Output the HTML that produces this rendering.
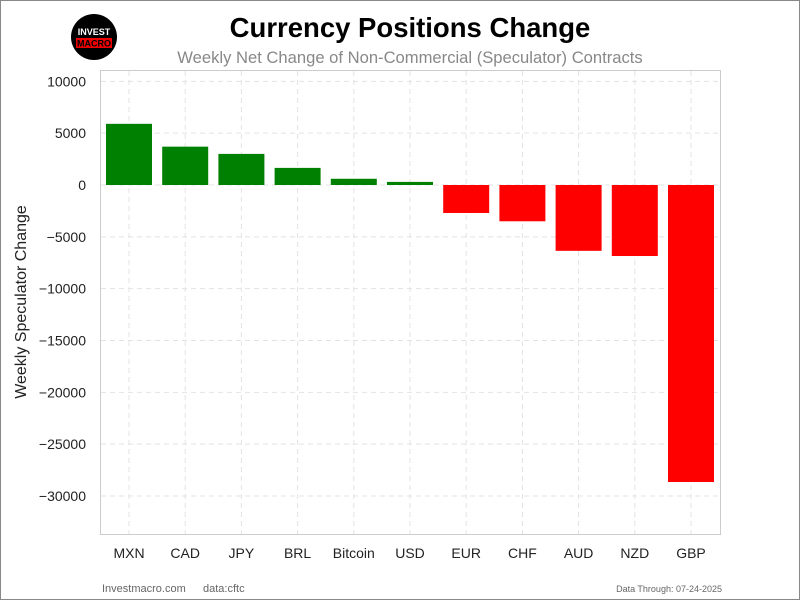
<!DOCTYPE html>
<html><head><meta charset="utf-8"><style>
body{margin:0;background:#fff;font-family:"Liberation Sans",sans-serif}
svg{display:block}
</style></head><body>
<svg id="c" width="800" height="600" xmlns="http://www.w3.org/2000/svg">
<rect x="0.5" y="0.5" width="799" height="599" fill="#fff" stroke="#888"/>
<g>
<circle cx="94" cy="37" r="23" fill="#000"/>
<text x="94" y="35" font-size="9" font-weight="bold" fill="#fff" text-anchor="middle">INVEST</text>
<rect x="76" y="38" width="36" height="10" fill="#e00"/>
<text x="94" y="46.5" font-size="9" font-weight="bold" fill="#000" text-anchor="middle">MACRO</text>
</g>
<text x="410" y="37" font-size="27.5" font-weight="bold" text-anchor="middle" fill="#000">Currency Positions Change</text>
<text x="410" y="63" font-size="16.6" text-anchor="middle" fill="#888">Weekly Net Change of Non-Commercial (Speculator) Contracts</text>
<text transform="translate(26,302) rotate(-90)" font-size="16" text-anchor="middle" fill="#222">Weekly Speculator Change</text>
<g id="grid"></g><g id="bars"></g><g id="labels"></g>
<rect x="100.5" y="70.5" width="620" height="464" fill="none" stroke="#ccc"/>
<text x="102" y="592" font-size="11" fill="#666">Investmacro.com</text>
<text x="203" y="592" font-size="11" fill="#666">data:cftc</text>
<text x="722" y="592" font-size="9" fill="#666" text-anchor="end">Data Through: 07-24-2025</text>
</svg>
<script>
const categories=["MXN","CAD","JPY","BRL","Bitcoin","USD","EUR","CHF","AUD","NZD","GBP"];
const values=[5900,3700,3000,1650,600,300,-2700,-3500,-6350,-6850,-28650];
const yTicks=[10000,5000,0,-5000,-10000,-15000,-20000,-25000,-30000];
const NS="http://www.w3.org/2000/svg";
const y=v=>185-v*0.010367;
const x=i=>129+i*56.2;
function mk(t,a,p){const e=document.createElementNS(NS,t);for(const k in a)e.setAttribute(k,a[k]);p.appendChild(e);return e;}
const g=document.getElementById('grid'),b=document.getElementById('bars'),l=document.getElementById('labels');
yTicks.forEach(v=>{
 const ln=mk('line',{x1:101,x2:720,y1:y(v),y2:y(v),stroke:'#e3e3e3','stroke-dasharray':'5,4'},g);
 
 
 const t=mk('text',{x:86,y:y(v)+5,'font-size':14,'text-anchor':'end',fill:'#222'},l);
 t.textContent=v<0?'\u2212'+Math.abs(v):String(v);
 
 
});
categories.forEach((c,i)=>{
 const ln=mk('line',{x1:x(i),x2:x(i),y1:71,y2:534,stroke:'#e3e3e3','stroke-dasharray':'5,4'},g);
 
 
 const v=values[i];
 const r=mk('rect',{x:x(i)-23,width:46,y:Math.min(y(0),y(v)),height:Math.abs(y(v)-y(0)),fill:v>=0?'#008000':'#ff0000'},b);
 
 
 const t=mk('text',{x:x(i),y:558,'font-size':14,'text-anchor':'middle',fill:'#222'},l);
 t.textContent=c;
 
 
});
</script>
</body></html>
